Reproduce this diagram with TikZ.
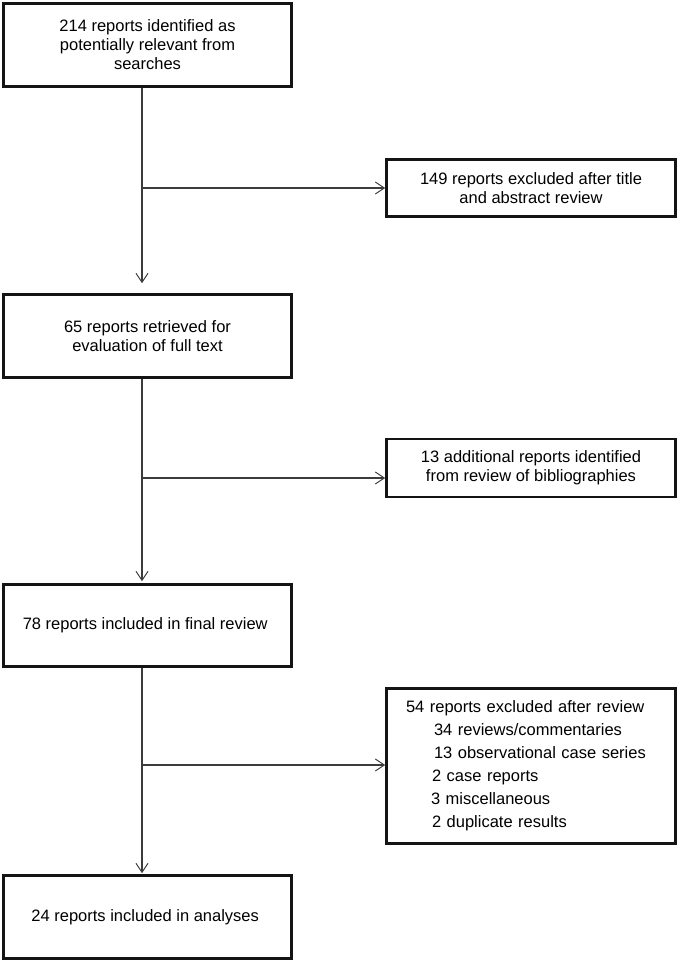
\documentclass[tikz,border=0pt]{standalone}
\usepackage{fontspec}
\setmainfont{Liberation Sans}
\usepackage{tikz}
\usetikzlibrary{arrows.meta, positioning}
\definecolor{boxline}{RGB}{20,20,20}
\definecolor{linkline}{RGB}{60,60,60}

\begin{document}
\begin{tikzpicture}[x=1pt, y=-1pt,
		% box style
		flowBox/.style={
			rectangle,
			draw=boxline,
			line width=2.6pt,
			minimum width=288pt,
			minimum height=83pt,
			align=center,
			inner sep=2pt,
			font=\fontsize{16.5}{19}\selectfont
		},
		sideBox/.style={
			flowBox,
			minimum width=289pt,
			minimum height=57pt
		},
		link/.style={
			draw=linkline,
			line width=1.1pt,
			-{Straight Barb[length=9pt, width=12pt, line width=1pt]}
		}
		]
		\useasboundingbox (0,0) rectangle (679,964);
		
		% main column
		\node[flowBox] (search) at (147.5,45) {
			214 reports identified as \\ potentially relevant from \\ searches
		};
		\node[flowBox] (retr) at (147.5,336) {
			65 reports retrieved for \\ evaluation of full text
		};
		\node[flowBox, minimum height=82pt] (final) at (147.5,625.5) {
			78 reports included in final review
		};
		\node[flowBox] (analys) at (147.5,917) {
			24 reports included in analyses
		};
		
		% side boxes
		\node[sideBox] (excl1) at (531,188) {
			149 reports excluded after title \\ and abstract review
		};
		\node[sideBox, minimum height=58pt] (addl) at (531,468) {
			13 additional reports identified \\ from review of bibliographies
		};
		\node[sideBox, align=left, text width=250pt, inner xsep=19.5pt,
			minimum height=155pt, font=\fontsize{16.5}{23}\selectfont] (excl2) at (531,766) {
			54 reports excluded after review \\
			\hspace*{28pt}34 reviews/commentaries \\
			\hspace*{28pt}13 observational case series \\
			\hspace*{26pt}2 case reports \\
			\hspace*{25pt}3 miscellaneous \\
			\hspace*{26pt}2 duplicate results
		};
		
		% branch points on the trunk
		\coordinate (j1) at (142,188);
		\coordinate (j2) at (142,478);
		\coordinate (j3) at (142,765);
		
		% trunk
		\draw[link, shorten >=10pt] (search.south -| j1) -- (retr.north -| j1);
		\draw[link, shorten >=2pt] (retr.south -| j1) -- (final.north -| j1);
		\draw[link, shorten >=1pt] (final.south -| j1) -- (analys.north -| j1);
		
		% branches
		\draw[link] (j1) -- (j1 -| excl1.west);
		\draw[link] (j2) -- (j2 -| addl.west);
		\draw[link] (j3) -- (j3 -| excl2.west);
		
	\end{tikzpicture}
\end{document}
